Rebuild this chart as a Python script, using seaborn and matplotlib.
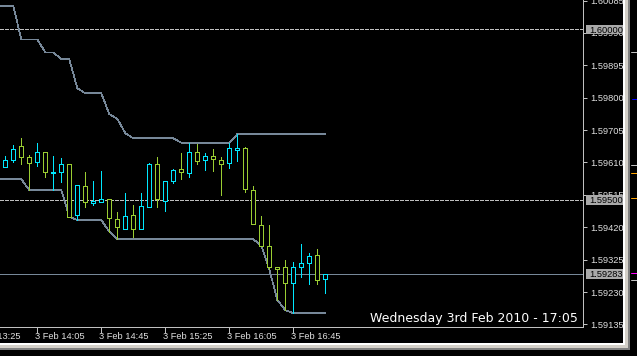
import numpy as np
import pandas as pd
import matplotlib
matplotlib.use("Agg")
import matplotlib.pyplot as plt
import matplotlib.transforms as mtransforms
from matplotlib.patches import Rectangle
from matplotlib.lines import Line2D
import seaborn as sns

# ---------------- data ----------------
times = pd.date_range("2010-02-03 13:45", periods=41, freq="5min")
open_ = [1.59598, 1.59616, 1.59658, 1.59627, 1.59611, 1.59640, 1.59580, 1.59583, 1.59605, 1.59456,
         1.59540, 1.59492, 1.59493, 1.59504, 1.59445, 1.59414, 1.59455, 1.59416, 1.59480, 1.59606,
         1.59496, 1.59557, 1.59590, 1.59578, 1.59640, 1.59618, 1.59628, 1.59616, 1.59608, 1.59647,
         1.59652, 1.59529, 1.59427, 1.59365, 1.59303, 1.59303, 1.59256, 1.59303, 1.59314, 1.59338,
         1.59267]
high = [1.59629, 1.59661, 1.59681, 1.59632, 1.59666, 1.59640, 1.59629, 1.59622, 1.59605, 1.59543,
        1.59583, 1.59556, 1.59585, 1.59504, 1.59465, 1.59521, 1.59484, 1.59521, 1.59609, 1.59625,
        1.59555, 1.59590, 1.59639, 1.59668, 1.59664, 1.59639, 1.59650, 1.59625, 1.59668, 1.59693,
        1.59655, 1.59541, 1.59453, 1.59427, 1.59303, 1.59324, 1.59319, 1.59371, 1.59344, 1.59355,
        1.59283]
low = [1.59598, 1.59611, 1.59605, 1.59529, 1.59601, 1.59567, 1.59529, 1.59552, 1.59451, 1.59441,
       1.59479, 1.59484, 1.59493, 1.59407, 1.59385, 1.59414, 1.59391, 1.59416, 1.59478, 1.59479,
       1.59469, 1.59549, 1.59562, 1.59568, 1.59606, 1.59588, 1.59585, 1.59515, 1.59595, 1.59615,
       1.59523, 1.59429, 1.59366, 1.59297, 1.59207, 1.59177, 1.59168, 1.59273, 1.59253, 1.59253,
       1.59228]
close = [1.59616, 1.59649, 1.59627, 1.59608, 1.59640, 1.59583, 1.59583, 1.59605, 1.59451, 1.59543,
         1.59493, 1.59496, 1.59504, 1.59446, 1.59420, 1.59452, 1.59416, 1.59483, 1.59606, 1.59502,
         1.59555, 1.59588, 1.59581, 1.59640, 1.59615, 1.59628, 1.59621, 1.59606, 1.59652, 1.59652,
         1.59531, 1.59429, 1.59366, 1.59303, 1.59297, 1.59256, 1.59303, 1.59314, 1.59335, 1.59265,
         1.59283]

# channel lines (start one bar earlier, 13:40)
line_times = pd.date_range("2010-02-03 13:40", periods=42, freq="5min")
upper = [1.60069, 1.60069, 1.60069, 1.59971, 1.59971, 1.59971, 1.59933, 1.59933, 1.59913, 1.59913,
         1.59828, 1.59813, 1.59813, 1.59813, 1.59752, 1.59738, 1.59696, 1.59681, 1.59681, 1.59681,
         1.59681, 1.59681, 1.59681, 1.59668, 1.59668, 1.59668, 1.59668, 1.59668, 1.59668, 1.59668,
         1.59693, 1.59693, 1.59693, 1.59693, 1.59693, 1.59693, 1.59693, 1.59693, 1.59693, 1.59693,
         1.59693, 1.59693]
lower = [1.59561, 1.59561, 1.59561, 1.59561, 1.59529, 1.59529, 1.59529, 1.59529, 1.59529, 1.59451,
         1.59441, 1.59441, 1.59441, 1.59441, 1.59407, 1.59385, 1.59385, 1.59385, 1.59385, 1.59385,
         1.59385, 1.59385, 1.59385, 1.59385, 1.59385, 1.59385, 1.59385, 1.59385, 1.59385, 1.59385,
         1.59385, 1.59385, 1.59385, 1.59366, 1.59297, 1.59207, 1.59177, 1.59168, 1.59168, 1.59168,
         1.59168, 1.59168]

level_lines = [1.60000, 1.59500]
last_price = 1.59283
price_ticks = [1.60085, 1.59990, 1.59895, 1.59800, 1.59705, 1.59610,
               1.59515, 1.59420, 1.59325, 1.59230, 1.59135]
time_labels = ["2010-02-03 13:25", "2010-02-03 14:05", "2010-02-03 14:45",
               "2010-02-03 15:25", "2010-02-03 16:05", "2010-02-03 16:45"]
date_label = "Wednesday 3rd Feb 2010 - 17:05"

# ---------------- style ----------------
sns.set_theme(style="dark", rc={"axes.facecolor": "black", "figure.facecolor": "black"})
plt.rcParams["font.family"] = ["Liberation Sans", "DejaVu Sans"]

UP = "#00E8FF"
DOWN = "#9ACD32"
LINE = "#778899"
SILVER = "#C0C0C0"
TXT = "#E0E0E0"
PX = 0.5   # draws as one pixel without antialiasing
FS = 6.7

W, H = 637, 356
fig = plt.figure(figsize=(W / 100, H / 100), dpi=100)
fig.patch.set_facecolor("black")
ax = fig.add_axes([0, 29 / H, 583 / W, 327 / H])
ax.set_facecolor("black")

step = pd.Timedelta("5min")
x = np.asarray((times - times[0]) / step, dtype=float)
lx = np.asarray((line_times - times[0]) / step, dtype=float)

df = pd.DataFrame({"x": x, "open": open_, "high": high, "low": low, "close": close})
df["up"] = df["close"] >= df["open"]
colors = [UP if u else DOWN for u in df["up"]]

# level lines
for lv in level_lines:
    ax.axhline(lv, color=SILVER, lw=0.72, ls=(0, (3, 2)), zorder=1, antialiased=False)
ax.axhline(last_price, color=LINE, lw=PX, zorder=1, antialiased=False)

# channel lines
sns.lineplot(x=lx, y=upper, ax=ax, color=LINE, linewidth=PX, estimator=None,
             sort=False, antialiased=False, zorder=2)
sns.lineplot(x=lx, y=lower, ax=ax, color=LINE, linewidth=PX, estimator=None,
             sort=False, antialiased=False, zorder=2)

# candles
ax.vlines(df["x"], df["low"], df["high"], colors=colors, lw=0.72, zorder=3, antialiased=False)
bottoms = np.minimum(df["open"], df["close"])
heights = np.abs(df["close"] - df["open"])
ax.bar(df["x"], heights, bottom=bottoms, width=0.5, facecolor="black",
       edgecolor=colors, linewidth=0.72, zorder=4, antialiased=False)

# axes limits
ax.set_xlim(-5.3 / 8, (583 - 5.3) / 8)
ax.set_ylim(1.5912755, 1.6008651)

# spines
for s in ["top", "left"]:
    ax.spines[s].set_visible(False)
for s in ["right", "bottom"]:
    ax.spines[s].set_visible(True)
    ax.spines[s].set_color(SILVER)
    ax.spines[s].set_linewidth(0.72)
ax.grid(False)

# y ticks on the right
ax.yaxis.tick_right()
ax.set_yticks(price_ticks)
ax.set_yticklabels([f"{p:.5f}" for p in price_ticks])
ax.tick_params(axis="y", colors=SILVER, labelcolor=TXT, length=3, width=0.72, pad=2.5,
               labelsize=FS, direction="out", right=True, left=False)

# x ticks
tl = pd.to_datetime(time_labels)
tx = np.asarray((tl - times[0]) / step, dtype=float)
ax.set_xticks(tx[tx >= ax.get_xlim()[0]])
ax.set_xticklabels([])
ax.tick_params(axis="x", colors=SILVER, length=4, width=0.72, direction="out", bottom=True)
for t, xv in zip(tl, tx):
    ax.annotate(f"{t.day} {t.strftime('%b')} {t.strftime('%H:%M')}", xy=(xv, 0),
                xycoords=("data", "axes fraction"), xytext=(-2, -5),
                textcoords="offset pixels", ha="left", va="top", fontsize=FS,
                color=TXT, annotation_clip=False)

# highlighted price boxes on the scale
y0, y1 = ax.get_ylim()
half_h = 4.8 * (y1 - y0) / 327
for p in level_lines + [last_price]:
    r = Rectangle((1 + 3 / 583, p - half_h), 37 / 583, 2 * half_h,
                  transform=mtransforms.blended_transform_factory(ax.transAxes, ax.transData),
                  facecolor="#A9A9A9", edgecolor="none", clip_on=False, zorder=10)
    ax.add_patch(r)
    ax.annotate(f"{p:.5f}", xy=(1, p), xycoords=("axes fraction", "data"),
                xytext=(6, 0), textcoords="offset pixels", ha="left", va="center_baseline",
                fontsize=FS, color="black", annotation_clip=False, zorder=11)

# date label
ax.text(578 / 583, (327 - 321.7) / 327, date_label, transform=ax.transAxes,
        ha="right", va="baseline", fontsize=9, color="white", family=["DejaVu Sans"],
        zorder=12)

# window frame
def px_rect(x0, y0_, w, h, c):
    fig.add_artist(Rectangle((x0 / W, 1 - (y0_ + h) / H), w / W, h / H,
                             transform=fig.transFigure, facecolor=c, edgecolor="none"))

px_rect(0, 343, 630, 2, "#FFFFFF")
px_rect(0, 345, 630, 3, "#D4D0C8")
px_rect(0, 348, 630, 2, "#808080")
px_rect(623, 0, 2, 345, "#FFFFFF")
px_rect(625, 0, 3, 348, "#D4D0C8")
px_rect(628, 0, 2, 350, "#808080")

# small markers outside the frame
for yy, c, x0 in [(52, "#C0C0C0", 631), (98.7, "#0000FF", 632), (165, "#C0C0C0", 631),
                  (173, "#FFA500", 631), (198, "#FFA500", 631), (273, "#FF00FF", 631),
                  (280, "#C0C0C0", 631)]:
    fig.add_artist(Line2D([x0 / W, 637 / W], [1 - yy / H, 1 - yy / H], color=c,
                          lw=0.72, transform=fig.transFigure))

fig.savefig("out.png", dpi=100, facecolor="black")
